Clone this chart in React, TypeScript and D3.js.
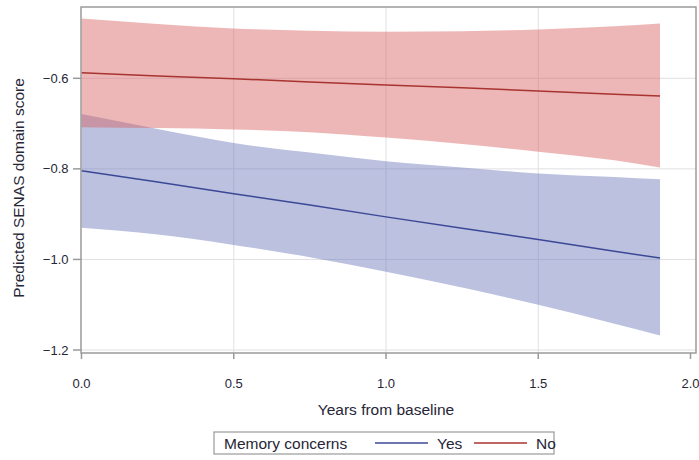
import React from "react";
import * as d3 from "d3";

// years from baseline at which predictions were read
const years = [0, 0.25, 0.5, 0.75, 1.0, 1.25, 1.5, 1.75, 1.9];

// Memory concerns = Yes
const yesMean = [-0.804, -0.829, -0.855, -0.88, -0.906, -0.931, -0.956, -0.982, -0.997];
const yesUpper = [-0.679, -0.712, -0.743, -0.764, -0.783, -0.797, -0.81, -0.818, -0.823];
const yesLower = [-0.93, -0.945, -0.968, -0.995, -1.027, -1.062, -1.1, -1.142, -1.168];

// Memory concerns = No
const noMean = [-0.588, -0.595, -0.601, -0.608, -0.615, -0.621, -0.628, -0.635, -0.639];
const noUpper = [-0.468, -0.48, -0.49, -0.495, -0.497, -0.496, -0.492, -0.485, -0.479];
const noLower = [-0.708, -0.71, -0.713, -0.719, -0.731, -0.745, -0.762, -0.781, -0.797];

const xTicks = [0, 0.5, 1.0, 1.5, 2.0];
const yTicks = [-0.6, -0.8, -1.0, -1.2];

const legendTitle = "Memory concerns";
const groups = ["Yes", "No"];

const font = "'Liberation Sans', Arial, sans-serif";
const textColor = "#262636";

const frame = { left: 81, right: 696, top: 7, bottom: 353 };

const x = d3.scaleLinear().domain([0, 2]).range([81.5, 690.5]);
const y = d3.scaleLinear().domain([-1.2, -0.6]).range([350, 78.3]);

const series = [
  { name: "Yes", mean: yesMean, lower: yesLower, upper: yesUpper, band: "rgb(105,118,185)", line: "#3c4896" },
  { name: "No", mean: noMean, lower: noLower, upper: noUpper, band: "rgb(214,96,96)", line: "#a8342f" },
];

const area = d3
  .area<number>()
  .x((d, i) => x(years[i]))
  .curve(d3.curveMonotoneX);

const line = d3
  .line<number>()
  .x((d, i) => x(years[i]))
  .y(d => y(d));

export default function App() {
  return (
    <svg
      width={699}
      height={460}
      style={{ position: "absolute", left: 0, top: 0, background: "#fff" }}
      fontFamily={font}
    >
      {/* grid */}
      {xTicks.slice(1, -1).map(t => (
        <line key={"gx" + t} x1={x(t)} x2={x(t)} y1={frame.top} y2={frame.bottom} stroke="#e0e0e4" />
      ))}
      {yTicks.map(t => (
        <line key={"gy" + t} x1={frame.left} x2={frame.right} y1={y(t)} y2={y(t)} stroke="#e0e0e4" />
      ))}

      {/* confidence bands */}
      {series.map(s => (
        <path
          key={"band" + s.name}
          d={area.y0((d, i) => y(s.lower[i])).y1((d, i) => y(s.upper[i]))(s.mean) || ""}
          fill={s.band}
          fillOpacity={0.45}
        />
      ))}

      {/* predicted lines */}
      {series.map(s => (
        <path key={"line" + s.name} d={line(s.mean) || ""} fill="none" stroke={s.line} strokeWidth={1.5} />
      ))}

      {/* frame */}
      <rect
        x={frame.left}
        y={frame.top}
        width={frame.right - frame.left}
        height={frame.bottom - frame.top}
        fill="none"
        stroke="#9a9a9a"
        strokeWidth={1.5}
      />

      {/* x axis */}
      {xTicks.map(t => (
        <g key={"xt" + t}>
          <line x1={x(t)} x2={x(t)} y1={frame.bottom} y2={frame.bottom + 6} stroke="#9a9a9a" strokeWidth={1.5} />
          <text x={x(t)} y={387.5} textAnchor="middle" fontSize={13} fill={textColor}>
            {d3.format(".1f")(t)}
          </text>
        </g>
      ))}
      <text x={386} y={415} textAnchor="middle" fontSize={15.5} fill={textColor}>
        Years from baseline
      </text>

      {/* y axis */}
      {yTicks.map(t => (
        <g key={"yt" + t}>
          <line x1={frame.left - 8} x2={frame.left} y1={y(t)} y2={y(t)} stroke="#9a9a9a" strokeWidth={1.5} />
          <text x={68.5} y={y(t) + 4.5} textAnchor="end" fontSize={13} fill={textColor}>
            {d3.format(".1f")(t)}
          </text>
        </g>
      ))}
      <text
        transform="translate(24,188) rotate(-90)"
        textAnchor="middle"
        fontSize={15.5}
        fill={textColor}
      >
        Predicted SENAS domain score
      </text>

      {/* legend */}
      <rect x={214} y={432} width={340} height={22} fill="#fff" stroke="#9a9a9a" strokeWidth={1.2} />
      <text x={224} y={448.5} fontSize={15.5} fill={textColor}>
        {legendTitle}
      </text>
      {groups.map((g, i) => {
        const s = series[i];
        const x0 = 375 + i * 99;
        return (
          <g key={"lg" + g}>
            <line x1={x0} x2={x0 + 53} y1={443} y2={443} stroke={s.line} strokeWidth={1.5} />
            <text x={x0 + 62} y={448.5} fontSize={15.5} fill={textColor}>
              {g}
            </text>
          </g>
        );
      })}
    </svg>
  );
}
